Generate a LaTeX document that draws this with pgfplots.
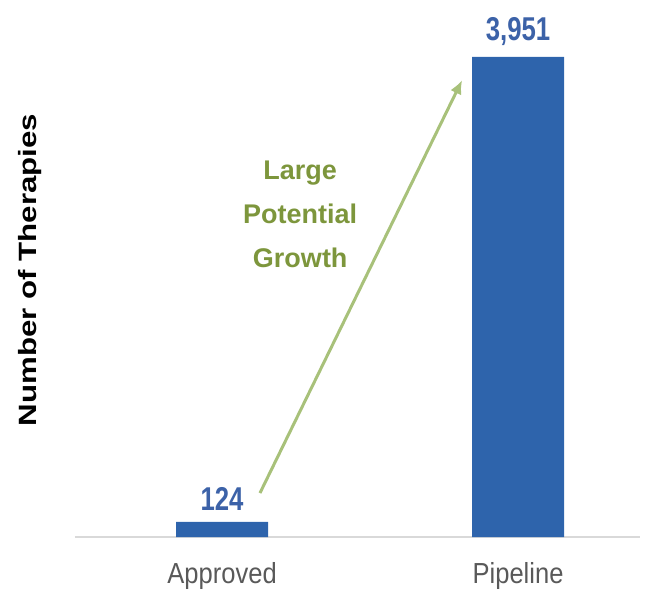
\documentclass[border=0pt]{standalone}
\usepackage{pgfplots}
\pgfplotsset{compat=1.18}
\usetikzlibrary{arrows.meta}
\usepackage{fontspec}
\setmainfont{Liberation Sans}
\newfontfamily\condfont{Liberation Sans}[FakeStretch=0.78]
\newfontfamily\tickfont{Liberation Sans}[FakeStretch=0.88]
\newfontfamily\widefont{Liberation Sans}[FakeStretch=1.25]
\definecolor{barblue}{RGB}{46,100,172}
\definecolor{valblue}{RGB}{60,98,168}
\definecolor{arrowgreen}{RGB}{168,193,122}
\definecolor{textgreen}{RGB}{125,150,60}
\definecolor{axisgray}{RGB}{217,217,217}
\definecolor{ticklab}{RGB}{89,89,89}
\begin{document}
\begin{tikzpicture}
\begin{axis}[
  scale only axis,
  width=565bp, height=537bp,
  xmin=-0.497, xmax=1.412,
  ymin=0, ymax=4420,
  axis x line=bottom,
  axis y line=none,
  axis line style={draw=axisgray, line width=1.5bp, -},
  xtick={0,1},
  xticklabels={Approved,Pipeline},
  xtick style={draw=none},
  xticklabel style={font=\tickfont\fontsize{29bp}{32bp}\selectfont, text=ticklab, yshift=-18bp},
  ytick=\empty,
  clip=false,
  ybar,
  bar width=92bp,
  point meta=explicit symbolic,
  nodes near coords,
  every node near coord/.append style={font=\condfont\bfseries\fontsize{33bp}{38bp}\selectfont, text=valblue, yshift=8bp},
]
\addplot[fill=barblue, draw=none] coordinates {(0,124) [124] (1,3951) [{3,951}]};
\draw[arrowgreen, line width=3bp, -{Latex[length=14bp,width=12bp]}] (axis cs:0.128,362) -- (axis cs:0.811,3761);
\node[align=center, text=textgreen, font=\bfseries\fontsize{27bp}{44bp}\selectfont] at (axis cs:0.264,2658) {Large\\Potential\\Growth};
\node[rotate=90, font=\widefont\bfseries\fontsize{25bp}{30bp}\selectfont] at (rel axis cs:-0.0796,0.497) {Number of Therapies};
\end{axis}
\path[use as bounding box] (-75bp,-59bp) rectangle (571bp,537bp);
\end{tikzpicture}
\end{document}
